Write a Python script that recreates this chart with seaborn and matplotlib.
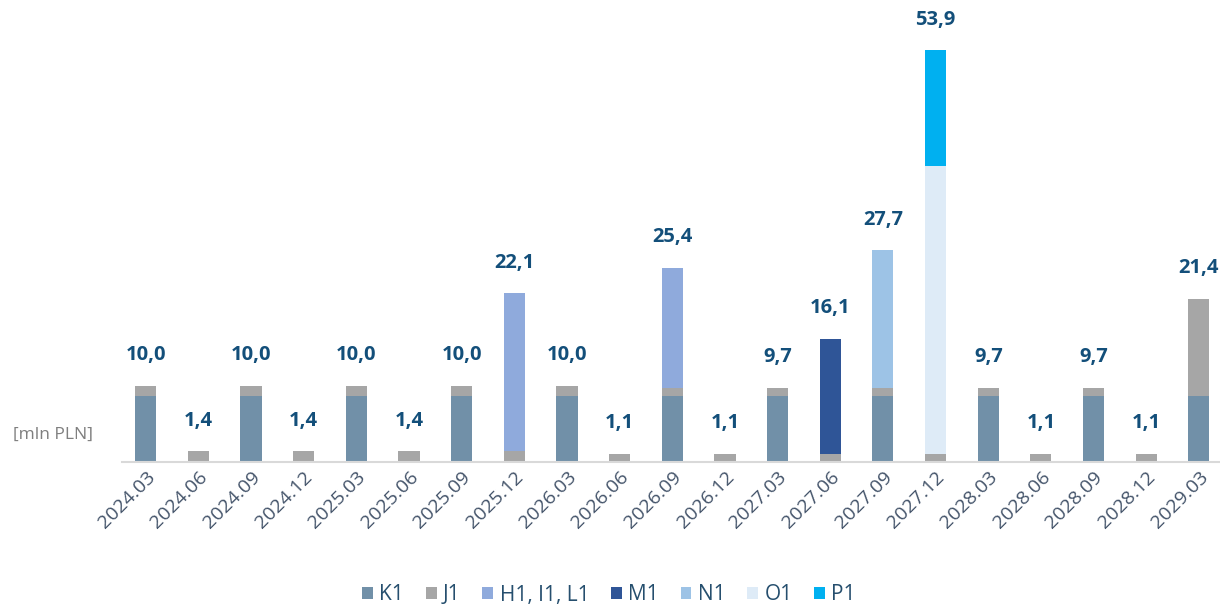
import numpy as np
import pandas as pd
import matplotlib
matplotlib.use("Agg")
import matplotlib.pyplot as plt
import seaborn as sns
from matplotlib.patches import Patch

categories = ["2024.03", "2024.06", "2024.09", "2024.12", "2025.03", "2025.06", "2025.09",
              "2025.12", "2026.03", "2026.06", "2026.09", "2026.12", "2027.03", "2027.06",
              "2027.09", "2027.12", "2028.03", "2028.06", "2028.09", "2028.12", "2029.03"]
K1 = [8.6, 0, 8.6, 0, 8.6, 0, 8.6, 0, 8.6, 0, 8.6, 0, 8.6, 0, 8.6, 0, 8.6, 0, 8.6, 0, 8.6]
J1 = [1.4, 1.4, 1.4, 1.4, 1.4, 1.4, 1.4, 1.4, 1.4, 1.1, 1.1, 1.1, 1.1, 1.1, 1.1, 1.1, 1.1, 1.1, 1.1, 1.1, 12.8]
H1_I1_L1 = [0, 0, 0, 0, 0, 0, 0, 20.7, 0, 0, 15.7, 0, 0, 0, 0, 0, 0, 0, 0, 0, 0]
M1 = [0, 0, 0, 0, 0, 0, 0, 0, 0, 0, 0, 0, 0, 15.0, 0, 0, 0, 0, 0, 0, 0]
N1 = [0, 0, 0, 0, 0, 0, 0, 0, 0, 0, 0, 0, 0, 0, 18.0, 0, 0, 0, 0, 0, 0]
O1 = [0, 0, 0, 0, 0, 0, 0, 0, 0, 0, 0, 0, 0, 0, 0, 37.7, 0, 0, 0, 0, 0]
P1 = [0, 0, 0, 0, 0, 0, 0, 0, 0, 0, 0, 0, 0, 0, 0, 15.1, 0, 0, 0, 0, 0]
totals = [10.0, 1.4, 10.0, 1.4, 10.0, 1.4, 10.0, 22.1, 10.0, 1.1, 25.4, 1.1, 9.7, 16.1,
          27.7, 53.9, 9.7, 1.1, 9.7, 1.1, 21.4]

series_names = ["K1", "J1", "H1, I1, L1", "M1", "N1", "O1", "P1"]
series_vals = [K1, J1, H1_I1_L1, M1, N1, O1, P1]
colors = ["#7190A8", "#A6A6A6", "#8FAADC", "#2F5597", "#9DC3E6", "#DEEBF7", "#00B0F0"]

sns.set_theme(style="white")
plt.rcParams['font.family'] = ['Open Sans', 'DejaVu Sans']

fig = plt.figure(figsize=(12.2, 6.07), dpi=100)
ax = fig.add_axes([122/1220, (607-462)/607, (1220-122)/1220, 443/607])

bottom = np.zeros(len(categories))
for name, vals, col in zip(series_names, series_vals, colors):
    v = np.array(vals, dtype=float)
    df = pd.DataFrame({"cat": categories, "val": v})
    sns.barplot(data=df, x="cat", y="val", bottom=bottom, color=col, width=0.4,
                ax=ax, order=categories, linewidth=0, saturation=1, errorbar=None)
    bottom = bottom + v

for i, t in enumerate(totals):
    ax.text(i, t + 2.7, f"{t:.1f}".replace(".", ","), ha="center", va="bottom",
            fontsize=14.5, fontweight="bold", color="#134F7A")

ax.set_xlim(-0.45, 20.4)
ax.set_ylim(0, 58)
ax.set_xlabel("")
ax.set_ylabel("")
ax.set_yticks([])
for s in ["top", "right", "left"]:
    ax.spines[s].set_visible(False)
ax.spines["bottom"].set_color("#D9D9D9")
ax.spines["bottom"].set_linewidth(1.5)
ax.tick_params(axis="x", length=0, pad=4)
ax.set_xticks(range(len(categories)))
ax.set_xticklabels(categories, rotation=45, ha="right", rotation_mode="anchor",
                   fontsize=14, color="#44546A")

fig.text(13/1220, 1 - 435/607, "[mln PLN]", fontsize=12.5, color="#7F7F7F", va="center", ha="left")

handles = [Patch(facecolor=c, edgecolor="none", label=n) for n, c in zip(series_names, colors)]
fig.legend(handles=handles, loc="center", bbox_to_anchor=(609/1220, 1 - 595/607), ncol=7,
           frameon=False, fontsize=15, handlelength=0.52, handleheight=0.52,
           handletextpad=0.3, columnspacing=1.05, labelcolor="#264F6E")

fig.savefig("out.png", dpi=100)
